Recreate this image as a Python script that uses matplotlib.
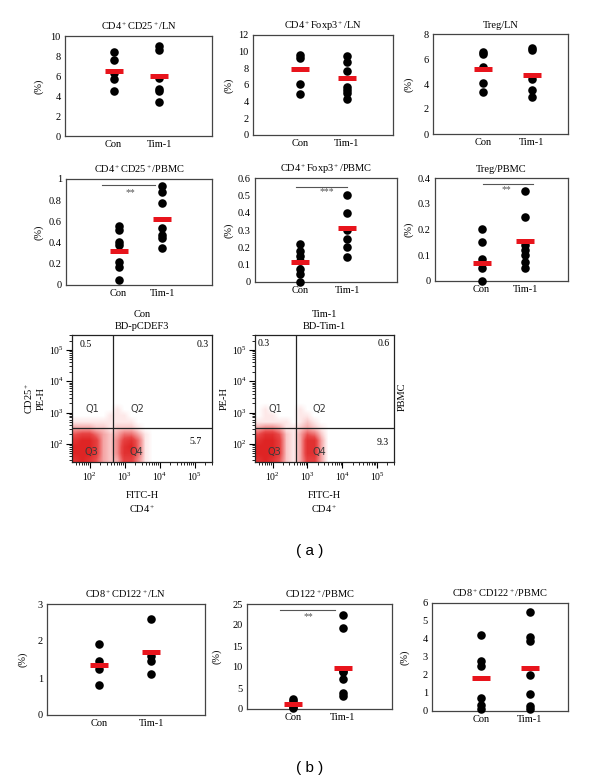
import matplotlib
matplotlib.use('Agg')
import matplotlib.pyplot as plt
import matplotlib.transforms as mtrans
from matplotlib.colors import LinearSegmentedColormap
import numpy as np

plt.rcParams['font.family'] = ['Liberation Serif', 'DejaVu Serif']
plt.rcParams['mathtext.fontset'] = 'custom'
plt.rcParams['mathtext.rm'] = 'Liberation Serif'
plt.rcParams['mathtext.it'] = 'Liberation Serif:italic'

groups = ['Con', 'Tim-1']

# (a) lymph node
cd25_ln_con = [8.4, 7.6, 6.3, 5.7, 4.5]
cd25_ln_tim = [9.0, 8.6, 5.8, 4.7, 4.5, 3.4]
cd25_ln_mean = [6.5, 6.0]
foxp3_ln_con = [9.6, 9.2, 6.1, 4.9]
foxp3_ln_tim = [9.5, 8.8, 7.7, 5.8, 5.4, 5.0, 4.3]
foxp3_ln_mean = [7.9, 6.8]
treg_ln_con = [6.6, 6.4, 5.4, 4.1, 3.4]
treg_ln_tim = [6.9, 6.7, 4.4, 3.5, 3.0]
treg_ln_mean = [5.2, 4.7]

# (a) PBMC
cd25_pb_con = [0.56, 0.52, 0.41, 0.38, 0.22, 0.17, 0.05]
cd25_pb_tim = [0.93, 0.88, 0.77, 0.54, 0.47, 0.44, 0.35]
cd25_pb_mean = [0.32, 0.62]
foxp3_pb_con = [0.22, 0.18, 0.15, 0.12, 0.074, 0.045, 0.0]
foxp3_pb_tim = [0.50, 0.40, 0.30, 0.25, 0.20, 0.146]
foxp3_pb_mean = [0.117, 0.314]
treg_pb_con = [0.20, 0.15, 0.085, 0.05, 0.0]
treg_pb_tim = [0.35, 0.25, 0.14, 0.12, 0.10, 0.075, 0.05]
treg_pb_mean = [0.069, 0.157]

# (b) CD122
cd122_ln_con = [1.92, 1.46, 1.23, 0.81]
cd122_ln_tim = [2.6, 1.6, 1.47, 1.11]
cd122_ln_mean = [1.35, 1.69]
cd122_pb_con = [2.5, 1.8, 1.2, 0.5, 0.2]
cd122_pb_tim = [22.4, 19.2, 9.0, 8.7, 7.1, 3.8, 3.2]
cd122_pb_mean = [1.2, 9.7]
cd8cd122_pb_con = [4.2, 2.8, 2.5, 0.72, 0.34, 0.13]
cd8cd122_pb_tim = [5.5, 4.1, 3.9, 1.98, 0.94, 0.28, 0.1]
cd8cd122_pb_mean = [1.85, 2.4]

# flow plots: event density (0-9) on log10 grid
flow_x_edges = [1.5, 4.1]   # log10 FITC-H, 13 columns
flow_y_edges = [1.4, 3.4]   # log10 PE-H, 10 rows (top row first)
flow_con = [
    [0, 0, 0, 0, 0, 0, 0, 0, 0, 0, 0, 0, 0],
    [0, 0, 0, 0, 0, 0, 1, 0, 0, 0, 0, 0, 0],
    [0, 0, 0, 0, 0, 1, 1, 1, 0, 0, 0, 0, 0],
    [1, 1, 1, 1, 1, 1, 1, 1, 1, 0, 0, 0, 0],
    [3, 3, 3, 2, 2, 1, 2, 2, 2, 1, 0, 0, 0],
    [6, 7, 7, 5, 3, 2, 3, 5, 5, 3, 1, 0, 0],
    [8, 9, 9, 7, 3, 2, 4, 7, 8, 5, 1, 0, 0],
    [9, 9, 9, 7, 3, 2, 4, 8, 9, 5, 1, 0, 0],
    [9, 9, 9, 7, 3, 2, 4, 8, 8, 5, 1, 0, 0],
    [8, 9, 8, 6, 3, 2, 3, 7, 7, 4, 1, 0, 0],
]
flow_tim = [
    [0, 0, 0, 0, 0, 0, 0, 0, 0, 0, 0, 0, 0],
    [0, 1, 0, 0, 0, 0, 1, 0, 0, 0, 0, 0, 0],
    [0, 1, 1, 0, 0, 0, 1, 1, 0, 0, 0, 0, 0],
    [1, 1, 1, 1, 1, 0, 1, 2, 1, 0, 0, 0, 0],
    [3, 4, 4, 3, 1, 1, 2, 3, 2, 1, 0, 0, 0],
    [6, 8, 8, 6, 2, 1, 3, 6, 5, 2, 0, 0, 0],
    [8, 9, 9, 7, 2, 1, 3, 8, 8, 3, 0, 0, 0],
    [9, 9, 9, 7, 2, 1, 3, 8, 8, 3, 0, 0, 0],
    [9, 9, 9, 7, 2, 1, 3, 8, 8, 3, 0, 0, 0],
    [8, 9, 8, 6, 2, 1, 3, 7, 7, 3, 0, 0, 0],
]
con_quads = ['0.5', '0.3', '5.7']
tim_quads = ['0.3', '0.6', '9.3']

W, H = 600, 778
fig = plt.figure(figsize=(6, 7.78), dpi=100)
FRAME = '#444444'
RED = '#e8141c'


def px_axes(l, t, r, b):
    return fig.add_axes([l / W, 1 - b / H, (r - l) / W, (b - t) / H])


def dot_panel(box, f1, f2, title, con, tim, means, ymax, ystep, ylab_x, sig=None):
    ax = px_axes(*box)
    span = 1 / (f2 - f1)
    x0 = -f1 * span
    ax.set_xlim(x0, x0 + span)
    ax.set_ylim(0, ymax)
    ticks = np.round(np.arange(0, ymax + ystep / 2, ystep), 3)
    ax.set_yticks(ticks)
    ax.set_yticklabels([f'{v:g}' for v in ticks])
    ax.set_xticks([0, 1])
    ax.set_xticklabels(groups)
    ax.tick_params(length=0, labelsize=7.5, pad=3)
    for s in ax.spines.values():
        s.set_color(FRAME)
        s.set_linewidth(0.9)
    for i, vals in enumerate([con, tim]):
        ax.scatter([i] * len(vals), vals, s=38, color='black', zorder=3,
                   linewidths=0, clip_on=False)
    half = 9 / (box[2] - box[0]) * span
    for i, m in enumerate(means):
        ax.hlines(m, i - half, i + half, color=RED, lw=3.6, zorder=4)
    ax.set_title(title, fontsize=7.5, pad=4)
    ax.set_ylabel('(%)', fontsize=7.5)
    ax.yaxis.set_label_coords((ylab_x - box[0]) / (box[2] - box[0]), 0.5)
    if sig:
        xa, xb, yl, xs, ys, txt = sig
        tr = mtrans.blended_transform_factory(ax.transAxes, ax.transData)
        ax.plot([xa, xb], [yl, yl], color='#555555', lw=0.8, transform=tr)
        ax.text(xs, ys, txt, transform=tr, ha='center', va='center',
                fontsize=7, color='#555555')
    return ax


# row 1
dot_panel((65, 36, 212, 136), 0.33, 0.64, r'CD4$^+$CD25$^+$/LN',
          cd25_ln_con, cd25_ln_tim, cd25_ln_mean, 10, 2, 43)
dot_panel((253, 35, 393, 135), 0.336, 0.67, r'CD4$^+$Foxp3$^+$/LN',
          foxp3_ln_con, foxp3_ln_tim, foxp3_ln_mean, 12, 2, 233)
dot_panel((433, 34, 568, 134), 0.37, 0.73, 'Treg/LN',
          treg_ln_con, treg_ln_tim, treg_ln_mean, 8, 2, 413)

# row 2
dot_panel((66, 179, 212, 285), 0.36, 0.66, r'CD4$^+$CD25$^+$/PBMC',
          cd25_pb_con, cd25_pb_tim, cd25_pb_mean, 1, 0.2, 43,
          sig=(0.245, 0.61, 0.94, 0.44, 0.87, '**'))
dot_panel((255, 178, 397, 282), 0.32, 0.65, r'CD4$^+$Foxp3$^+$/PBMC',
          foxp3_pb_con, foxp3_pb_tim, foxp3_pb_mean, 0.6, 0.1, 233,
          sig=(0.29, 0.65, 0.55, 0.505, 0.52, '***'))
dot_panel((435, 178, 568, 281), 0.35, 0.68, 'Treg/PBMC',
          treg_pb_con, treg_pb_tim, treg_pb_mean, 0.4, 0.1, 413,
          sig=(0.36, 0.74, 0.378, 0.54, 0.355, '**'))

# bottom row (b)
dot_panel((47, 604, 205, 715), 0.33, 0.66, r'CD8$^+$CD122$^+$/LN',
          cd122_ln_con, cd122_ln_tim, cd122_ln_mean, 3, 1, 28)
dot_panel((247, 604, 392, 709), 0.32, 0.66, r'CD122$^+$/PBMC',
          cd122_pb_con, cd122_pb_tim, cd122_pb_mean, 25, 5, 222,
          sig=(0.23, 0.61, 23.6, 0.42, 22, '**'))
dot_panel((432, 603, 568, 711), 0.36, 0.72, r'CD8$^+$CD122$^+$/PBMC',
          cd8cd122_pb_con, cd8cd122_pb_tim, cd8cd122_pb_mean, 6, 1, 410)

# flow cytometry plots
flow_cmap = LinearSegmentedColormap.from_list(
    'flow', [(0, '#ffffff'), (0.12, '#fde6e6'), (0.35, '#f4a0a0'),
             (0.7, '#e84848'), (1, '#de2424')])
XL, YL = (1.49, 5.49), (1.42, 5.48)
GATE_X, GATE_Y = 2.67, 2.51


def flow_panel(box, dens, titles, quads, qpos):
    ax = px_axes(*box)
    ax.imshow(dens, extent=(flow_x_edges[0], flow_x_edges[1],
                            flow_y_edges[0], flow_y_edges[1]),
              origin='upper', cmap=flow_cmap, vmin=0, vmax=9,
              interpolation='bilinear', aspect='auto', zorder=1)
    ax.set_xlim(*XL)
    ax.set_ylim(*YL)
    ax.axvline(GATE_X, color='#222222', lw=0.9, zorder=3)
    ax.axhline(GATE_Y, color='#222222', lw=0.9, zorder=3)
    major = [2, 3, 4, 5]
    minor = [n + np.log10(k) for n in range(1, 6) for k in range(2, 10)]
    for axis, lim in ((ax.xaxis, XL), (ax.yaxis, YL)):
        axis.set_ticks(major)
        axis.set_ticklabels([rf'$10^{n}$' for n in major])
        axis.set_ticks([m for m in minor if lim[0] < m < lim[1]], minor=True)
    ax.tick_params(which='major', direction='out', length=4, width=0.8,
                   labelsize=7, pad=2)
    ax.tick_params(which='minor', direction='out', length=2, width=0.6)
    for s in ax.spines.values():
        s.set_color('#222222')
        s.set_linewidth(0.9)
    ax.set_title(titles[0] + '\n' + titles[1], fontsize=7.5, pad=4,
                 linespacing=1.5)
    ax.set_xlabel('FITC-H\n' + r'CD4$^+$', fontsize=7.5, labelpad=6,
                  linespacing=1.35)
    for txt, (x, y) in zip(quads, qpos):
        ax.text(x, y, txt, fontsize=7, ha='center', va='center', zorder=4)
    for txt, (x, y) in zip(['Q1', 'Q2', 'Q3', 'Q4'],
                           [(2.07, 3.1), (3.35, 3.1), (2.05, 1.75), (3.33, 1.75)]):
        ax.text(x, y, txt, fontsize=7, ha='center', va='center',
                color='#3a3a3a', family='DejaVu Sans', zorder=4)
    return ax


ax_f1 = flow_panel((72, 335, 212, 462), flow_con, ['Con', 'BD-pCDEF3'],
                   con_quads, [(1.87, 5.19), (5.21, 5.19), (5.01, 2.06)])
ax_f1.set_ylabel(r'CD25$^+$' + '\nPE-H', fontsize=7.5, labelpad=2,
                 linespacing=1.3)
ax_f2 = flow_panel((255, 335, 394, 462), flow_tim, ['Tim-1', 'BD-Tim-1'],
                   tim_quads, [(1.73, 5.22), (5.19, 5.22), (5.16, 2.03)])
ax_f2.set_ylabel('PE-H', fontsize=7.5, labelpad=2)
fig.text(402 / W, 1 - 397 / H, 'PBMC', rotation=90, fontsize=7.5,
         ha='center', va='center')

fig.text(310 / W, 1 - 551 / H, '( a )', fontsize=11, family='Liberation Sans',
         ha='center', va='center')
fig.text(310 / W, 1 - 768 / H, '( b )', fontsize=11, family='Liberation Sans',
         ha='center', va='center')

fig.savefig('out.png', dpi=100, facecolor='white')
